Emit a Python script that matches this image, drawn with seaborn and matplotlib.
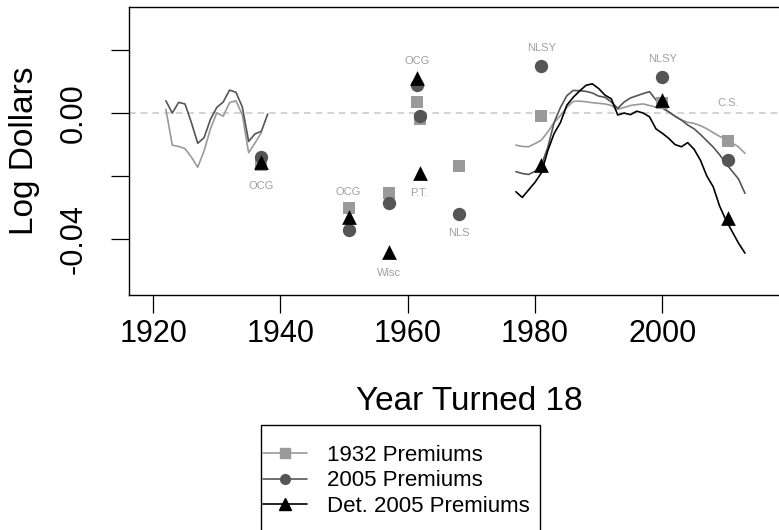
import numpy as np
import pandas as pd
import matplotlib
matplotlib.use("Agg")
import matplotlib.pyplot as plt
from matplotlib.lines import Line2D
from matplotlib.patches import Rectangle
import seaborn as sns

# ---------------- data ----------------
years_left_2005 = list(range(1922, 1939))
vals_left_2005 = [0.0039, 0.0000, 0.0034, 0.0029, -0.0030, -0.0096, -0.0078, -0.0020,
                  0.0018, 0.0035, 0.0073, 0.0066, 0.0020, -0.0090, -0.0066, -0.0058, -0.0003]

years_left_1932 = list(range(1922, 1938))
vals_left_1932 = [0.0012, -0.0102, -0.0106, -0.0113, -0.0140, -0.0172, -0.0120, -0.0050,
                  0.0001, -0.0010, 0.0033, 0.0039, -0.0005, -0.0126, -0.0095, -0.0062]

years_right = list(range(1977, 2014))
vals_right_1932 = [-0.0102, -0.0106, -0.0107, -0.0097, -0.0086, -0.0060, -0.0030, -0.0008,
                   0.0018, 0.0037, 0.0038, 0.0036, 0.0033, 0.0031, 0.0029, 0.0024, 0.0012,
                   0.0018, 0.0024, 0.0027, 0.0029, 0.0024, 0.0019, 0.0015, 0.0004, -0.0010,
                   -0.0022, -0.0029, -0.0033, -0.0040, -0.0050, -0.0062, -0.0074, -0.0083,
                   -0.0095, -0.0108, -0.0128]
vals_right_2005 = [-0.0186, -0.0192, -0.0195, -0.0185, -0.0165, -0.0110, -0.0030, 0.0018,
                   0.0055, 0.0072, 0.0071, 0.0069, 0.0064, 0.0054, 0.0050, 0.0035, 0.0015,
                   0.0035, 0.0048, 0.0055, 0.0062, 0.0068, 0.0042, 0.0018, 0.0004, -0.0010,
                   -0.0022, -0.0038, -0.0050, -0.0068, -0.0088, -0.0108, -0.0132, -0.0160,
                   -0.0185, -0.0210, -0.0255]
vals_right_det = [-0.0250, -0.0268, -0.0244, -0.0220, -0.0190, -0.0120, -0.0065, -0.0030,
                  0.0025, 0.0050, 0.0070, 0.0088, 0.0093, 0.0078, 0.0057, 0.0045, -0.0006,
                  0.0000, -0.0005, 0.0006, 0.0000, -0.0012, -0.0050, -0.0064, -0.0080,
                  -0.0100, -0.0107, -0.0094, -0.0115, -0.0150, -0.0200, -0.0234, -0.0295,
                  -0.0340, -0.0377, -0.0414, -0.0445]

pt_years_1932 = [1937, 1950.7, 1957, 1961.5, 1962, 1968, 1981, 2000, 2010.4]
pt_vals_1932 = [-0.0165, -0.0303, -0.0253, 0.0036, -0.0020, -0.0168, -0.0010, 0.0032, -0.0089]
pt_years_2005 = [1937, 1950.7, 1957, 1961.5, 1962, 1968, 1981, 2000, 2010.4]
pt_vals_2005 = [-0.0139, -0.0371, -0.0287, 0.0089, -0.0009, -0.0321, 0.0149, 0.0115, -0.0149]
pt_years_det = [1937, 1950.7, 1957, 1961.5, 1962, 1981, 2000, 2010.4]
pt_vals_det = [-0.0155, -0.0329, -0.0440, 0.0110, -0.0190, -0.0165, 0.0041, -0.0334]

study_labels = ["OCG", "OCG", "Wisc", "OCG", "P.T.", "NLS", "NLSY", "NLSY", "C.S."]
study_label_x = [1936.9, 1950.7, 1957.0, 1961.5, 1961.8, 1968.0, 1981.0, 2000.0, 2010.4]
study_label_y = [-0.0232, -0.0250, -0.0508, 0.0165, -0.0254, -0.0381, 0.0206, 0.0171, 0.0032]

xticks = [1920, 1940, 1960, 1980, 2000]
yticks = [0.02, 0.00, -0.02, -0.04]
ytick_labels = ["", "0.00", "", "-0.04"]
legend_labels = ["1932 Premiums", "2005 Premiums", "Det. 2005 Premiums"]

# ---------------- style ----------------
sns.set_theme(style="ticks")
plt.rcParams["font.family"] = ["Liberation Sans", "DejaVu Sans"]

C1932 = "#9a9a9a"
C2005 = "#555555"
CDET = "#000000"
CLAB = "#a0a0a0"

W, H = 779, 530
fig = plt.figure(figsize=(W / 100, H / 100), dpi=100)
ax = fig.add_axes([129 / W, 1 - 295 / H, (815 - 129) / W, (295 - 7) / H])

ax.axhline(0, color="#cccccc", lw=1.2, ls=(0, (4, 3)), zorder=1)

lw = 1.2
sns.lineplot(x=years_left_1932, y=vals_left_1932, color=C1932, lw=lw, ax=ax, zorder=2)
sns.lineplot(x=years_left_2005, y=vals_left_2005, color=C2005, lw=lw, ax=ax, zorder=2)
sns.lineplot(x=years_right, y=vals_right_1932, color=C1932, lw=lw, ax=ax, zorder=2)
sns.lineplot(x=years_right, y=vals_right_2005, color=C2005, lw=lw, ax=ax, zorder=2)
sns.lineplot(x=years_right, y=vals_right_det, color=CDET, lw=lw, ax=ax, zorder=2)

sns.scatterplot(x=pt_years_1932, y=pt_vals_1932, marker="s", s=9.2 ** 2, color=C1932,
                linewidth=0, ax=ax, zorder=3)
sns.scatterplot(x=pt_years_2005, y=pt_vals_2005, marker="o", s=9.6 ** 2, color=C2005,
                linewidth=0, ax=ax, zorder=4)
sns.scatterplot(x=pt_years_det, y=pt_vals_det, marker="^", s=10.6 ** 2, color=CDET,
                linewidth=0, ax=ax, zorder=5)

for t, x, y in zip(study_labels, study_label_x, study_label_y):
    ax.text(x, y, t, color=CLAB, fontsize=8, ha="center", va="center", zorder=6)

ax.set_xlim(1916.2, 2024)
ax.set_ylim(-0.0578, 0.0337)
ax.set_xticks(xticks)
ax.set_xticklabels([str(v) for v in xticks])
ax.set_yticks(yticks)
ax.set_yticklabels(ytick_labels)
for sp in ax.spines.values():
    sp.set_visible(True)
    sp.set_color("black")
    sp.set_linewidth(1.0)
ax.tick_params(axis="both", direction="out", length=13, width=0.9, color="black",
               labelsize=22, labelcolor="black")
ax.tick_params(axis="x", pad=4)
ax.tick_params(axis="y", pad=16)
for lab in ax.get_yticklabels():
    lab.set_rotation(90)
    lab.set_va("center")

ax.set_xlabel("Year Turned 18", fontsize=24, color="black")
ax.set_ylabel("Log Dollars", fontsize=24, color="black")
ax.xaxis.set_label_coords((469 - 129) / 686, (295 - 401) / 288)
ax.yaxis.set_label_coords((25 - 129) / 686, 0.5)
ax.xaxis.label.set_va("center")
ax.yaxis.label.set_va("center")

# legend
handles = [
    Line2D([], [], color=C1932, lw=lw, marker="s", markersize=7),
    Line2D([], [], color=C2005, lw=lw, marker="o", markersize=7),
    Line2D([], [], color=CDET, lw=lw, marker="^", markersize=8),
]
fig.legend(handles, legend_labels, loc="upper left",
           bbox_to_anchor=(263 / W, 1 - 445 / H), frameon=False, fontsize=16,
           borderpad=0, borderaxespad=0, handlelength=2.0, handletextpad=0.9,
           labelspacing=0.2, labelcolor="black")
box_top = 1 - 425 / H
fig.patches.append(Rectangle((261 / W, -0.05), (540 - 261) / W, box_top + 0.05,
                             transform=fig.transFigure, fill=False, edgecolor="black",
                             lw=1.0, clip_on=False))

fig.savefig("out.png", dpi=100)
